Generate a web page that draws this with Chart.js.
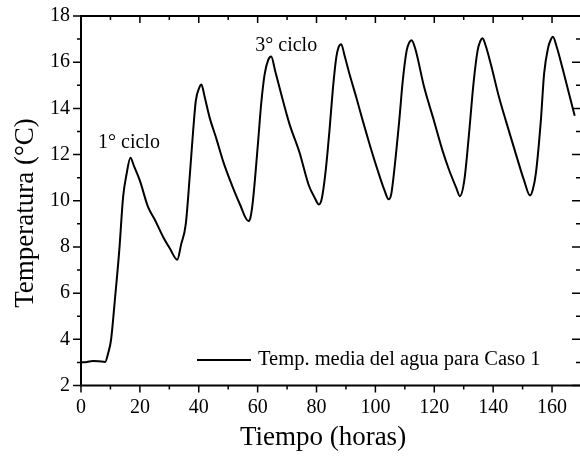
<!DOCTYPE html>
<html><head><meta charset="utf-8">
<script src="https://cdn.jsdelivr.net/npm/chart.js@4"></script>
<style>html,body{margin:0;padding:0;background:#fff}</style>
</head><body>
<canvas id="c" width="580" height="461"></canvas>
<script>
const hours = [0,2,4,6,8.2,9.2,10.2,11.5,13,14.3,
  15.5,16.8,18,20,22.8,25,27.9,30.2,32.7,34,
  35.6,37,38.1,39,40.2,40.9,42,43.7,46,48.2,
  51.1,53.9,56.9,57.6,58.4,60.1,61.2,62.4,63.6,64.6,
  66,68,70.8,74.2,77.4,79.5,80.8,81.8,83,84.4,
  85.5,86.7,87.5,88.4,89.5,91.2,93.5,95.7,98,100.8,
  103.1,104.5,105.4,106.4,108.1,109.3,110.6,111.5,112.3,113.5,
  116.6,119.7,122.8,125.1,127.5,128.7,130.2,131.9,133.3,134.7,
  135.6,136.4,137.5,139.2,142,144.3,147.7,150.5,152.5,153.5,
  154.5,156.2,157.3,158.7,159.5,160.3,161.5,163.5,165.8,167.7];
const temps = [3.00,3.02,3.06,3.05,3.02,3.39,3.97,5.7,7.85,10.16,
  11.17,11.86,11.5,10.87,9.72,9.2,8.43,7.93,7.45,8.1,
  9.0,11.17,13.04,14.33,14.9,15.03,14.5,13.6,12.68,11.74,
  10.73,9.87,9.12,9.3,10.0,12.46,14.19,15.49,16.1,16.25,
  15.6,14.62,13.33,12.1,10.66,10.1,9.84,10.1,11.17,13.04,
  14.76,16.2,16.65,16.78,16.3,15.49,14.48,13.47,12.46,11.31,
  10.45,10.06,10.3,11.31,13.47,15.2,16.49,16.85,16.95,16.6,
  14.9,13.55,12.17,11.31,10.55,10.2,10.88,13.04,15.05,16.49,
  16.9,17.04,16.7,15.92,14.48,13.47,12.03,10.88,10.23,10.5,
  11.17,13.47,15.49,16.64,16.95,17.1,16.7,15.77,14.62,13.68];
const xTickValues = [0,20,40,60,80,100,120,140,160];
const yTickValues = [2,4,6,8,10,12,14,16,18];
const seriesLabel = 'Temp. media del agua para Caso 1';
const xTitle = 'Tiempo (horas)';
const yTitle = 'Temperatura (°C)';
const cycleLabels = ['1° ciclo', '3° ciclo'];
const cycleLabelX = [16.3, 69.7];
const cycleLabelY = [12.5, 16.7];

const SERIF = '"Liberation Serif", "Times New Roman", serif';

const decor = {
  id: 'decor',
  afterDraw(chart) {
    const ctx = chart.ctx, ca = chart.chartArea;
    const xs = chart.scales.x, ys = chart.scales.y;
    ctx.save();
    ctx.strokeStyle = '#000';
    ctx.fillStyle = '#000';
    // frame
    ctx.lineWidth = 2;
    ctx.beginPath();
    ctx.moveTo(ca.right, ca.top); ctx.lineTo(ca.left, ca.top); ctx.lineTo(ca.left, ca.bottom); ctx.lineTo(ca.right, ca.bottom);
    ctx.stroke();
    // ticks
    ctx.lineWidth = 1.5;
    const xMinor = xTickValues.slice(0, -1).map((v, i) => (v + xTickValues[i + 1]) / 2);
    const yMinor = yTickValues.slice(0, -1).map((v, i) => (v + yTickValues[i + 1]) / 2);
    ctx.beginPath();
    const xt = (v, len) => {
      const p = xs.getPixelForValue(v);
      ctx.moveTo(p, ca.bottom); ctx.lineTo(p, ca.bottom + len);
      ctx.moveTo(p, ca.top); ctx.lineTo(p, ca.top + len);
    };
    const yt = (v, len) => {
      const p = ys.getPixelForValue(v);
      ctx.moveTo(ca.left, p); ctx.lineTo(ca.left - len, p);
      ctx.moveTo(ca.right, p); ctx.lineTo(ca.right - len, p);
    };
    xTickValues.forEach(v => xt(v, 7));
    xMinor.forEach(v => xt(v, 4));
    yTickValues.forEach(v => yt(v, 8));
    yMinor.forEach(v => yt(v, 4));
    ctx.stroke();
    // annotations
    ctx.font = '20px ' + SERIF;
    ctx.textAlign = 'center';
    ctx.textBaseline = 'middle';
    cycleLabels.forEach((t, i) => {
      ctx.fillText(t, xs.getPixelForValue(cycleLabelX[i]), ys.getPixelForValue(cycleLabelY[i]));
    });
    // legend
    const ly = ca.bottom - 25.5;
    ctx.lineWidth = 2;
    ctx.beginPath();
    ctx.moveTo(197, ly); ctx.lineTo(251, ly);
    ctx.stroke();
    ctx.textAlign = 'left';
    ctx.font = '20.5px ' + SERIF;
    ctx.fillText(seriesLabel, 258, ly);
    // axis titles
    ctx.font = '27px ' + SERIF;
    ctx.textAlign = 'center';
    ctx.fillText(xTitle, 323, 438);
    ctx.translate(26, 213);
    ctx.rotate(-Math.PI / 2);
    ctx.fillText(yTitle, 0, 0);
    ctx.restore();
  }
};

new Chart(document.getElementById('c'), {
  type: 'line',
  data: {
    datasets: [{
      label: seriesLabel,
      data: hours.map((h, i) => ({x: h, y: temps[i]})),
      borderColor: '#000',
      borderWidth: 2,
      pointRadius: 0,
      cubicInterpolationMode: 'monotone',
      fill: false,
      borderJoinStyle: 'round'
    }]
  },
  options: {
    responsive: false,
    animation: false,
    devicePixelRatio: 1,
    layout: {padding: {top: 16, right: 0, left: 0, bottom: 0}},
    plugins: {legend: {display: false}, tooltip: {enabled: false}},
    scales: {
      x: {
        type: 'linear', min: 0, max: 169.5,
        afterBuildTicks: s => { s.ticks = xTickValues.map(v => ({value: v})); },
        afterFit: s => { s.height = 75.5; s.paddingLeft = 0; s.paddingRight = 0; },
        grid: {display: false, drawTicks: false},
        border: {display: false},
        ticks: {font: {family: SERIF, size: 20}, color: '#000', padding: 10, maxRotation: 0, autoSkip: false}
      },
      y: {
        type: 'linear', min: 2, max: 18,
        afterBuildTicks: s => { s.ticks = yTickValues.map(v => ({value: v})); },
        afterFit: s => { s.width = 81; s.paddingTop = 0; s.paddingBottom = 0; },
        grid: {display: false, drawTicks: false},
        border: {display: false},
        ticks: {font: {family: SERIF, size: 20}, color: '#000', padding: 11, autoSkip: false}
      }
    }
  },
  plugins: [decor]
});
</script>
</body></html>
